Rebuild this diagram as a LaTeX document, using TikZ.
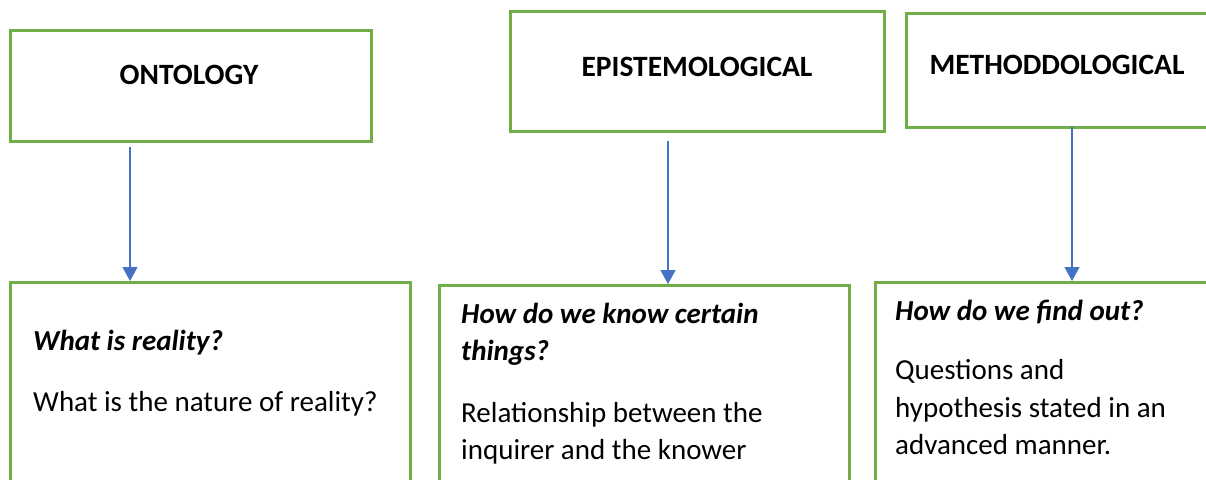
\documentclass[tikz,border=0pt]{standalone}
\usepackage{fontspec}
\setmainfont{Carlito}
\usetikzlibrary{arrows.meta}
\definecolor{boxgreen}{HTML}{70AD47}
\definecolor{arrblue}{HTML}{4472C4}
\tikzset{
  gbox/.style={draw=boxgreen, line width=3pt, rectangle, inner sep=0pt, anchor=north west},
  ttl/.style={anchor=base, inner sep=0pt, font=\fontsize{29.5}{37}\selectfont\bfseries},
  qtxt/.style={anchor=base west, inner sep=0pt, font=\fontsize{29}{37}\selectfont\bfseries\itshape},
  btxt/.style={anchor=base west, inner sep=0pt, font=\fontsize{29}{37}\selectfont},
  arr/.style={draw=arrblue, line width=1.4pt, -{Triangle[length=14pt,width=15pt]}}
}
\begin{document}
\begin{tikzpicture}[x=1pt,y=-1pt]
\useasboundingbox (0,0) rectangle (1206,479);
\clip (0,0) rectangle (1206,479);
% top boxes
\node[gbox, minimum width=361pt, minimum height=111pt] (ontb) at (9,29) {};
\node[gbox, minimum width=374pt, minimum height=120pt] (epib) at (509,10) {};
\node[gbox, minimum width=330pt, minimum height=114pt] (metb) at (905,12) {};
\node[ttl] (ontt) at (189,84) {ONTOLOGY};
\node[ttl] (epit) at (697,76) {EPISTEMOLOGICAL};
\node[ttl] (mett) at (1057,74) {METHODDOLOGICAL};
% bottom boxes
\node[gbox, minimum width=400pt, minimum height=230pt] (ontq) at (9,281) {};
\node[gbox, minimum width=410pt, minimum height=230pt] (epiq) at (438,284) {};
\node[gbox, minimum width=360pt, minimum height=230pt] (metq) at (874,281) {};
% texts
\node[qtxt] (o1) at (33,350) {What is reality?};
\node[btxt] (o2) at (33,411) {What is the nature of reality?};
\node[qtxt] (e1) at (461,323) {How do we know certain};
\node[qtxt] (e2) at (461,360) {things?};
\node[btxt] (e3) at (461,422) {Relationship between the};
\node[btxt] (e4) at (461,459) {inquirer and the knower};
\node[qtxt] (m1) at (895,320) {How do we find out?};
\node[btxt] (m2) at (895,379) {Questions and};
\node[btxt] (m3) at (895,417) {hypothesis stated in an};
\node[btxt] (m4) at (895,454) {advanced manner.};
% arrows
\coordinate (a1) at (130,147);
\coordinate (a2) at (668,141);
\coordinate (a3) at (1072,127);
\draw[arr] (a1) -- (a1 |- ontq.north);
\draw[arr] (a2) -- (a2 |- epiq.north);
\draw[arr] (a3) -- (a3 |- metq.north);
\end{tikzpicture}
\end{document}
